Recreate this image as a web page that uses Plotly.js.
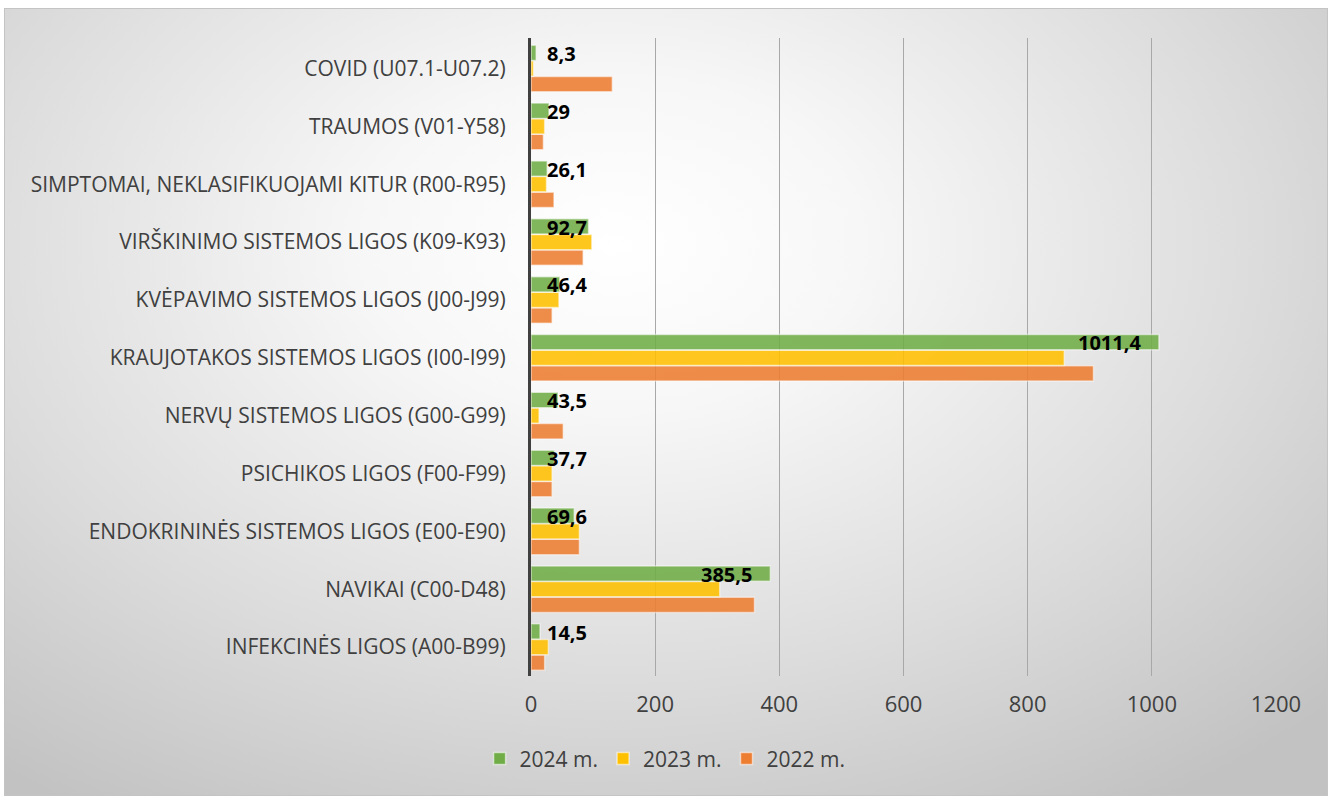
<!DOCTYPE html>
<html>
<head>
<meta charset="utf-8">
<script src="https://cdn.plot.ly/plotly-3.0.1.min.js"></script>
<style>
  html, body { margin: 0; padding: 0; background: #ffffff; }
  #frame {
    position: absolute; left: 4px; top: 8px; width: 1322px; height: 786px;
    border: 1px solid #c4c4c4;
    background: radial-gradient(ellipse 75% 85% at 46% 30%, #ffffff 0%, #f7f7f7 25%, #dcdcdc 65%, #c2c2c2 100%);
  }
  #chart { position: absolute; left: 0; top: 0; width: 1328px; height: 797px; }
</style>
</head>
<body>
<div id="frame"></div>
<div id="chart"></div>
<script>
document.addEventListener('DOMContentLoaded', function() {
    // categories, bottom to top
    var categories = [
      'INFEKCINĖS LIGOS (A00-B99)',
      'NAVIKAI (C00-D48)',
      'ENDOKRININĖS SISTEMOS LIGOS (E00-E90)',
      'PSICHIKOS LIGOS (F00-F99)',
      'NERVŲ SISTEMOS LIGOS (G00-G99)',
      'KRAUJOTAKOS SISTEMOS LIGOS (I00-I99)',
      'KVĖPAVIMO SISTEMOS LIGOS (J00-J99)',
      'VIRŠKINIMO SISTEMOS LIGOS (K09-K93)',
      'SIMPTOMAI, NEKLASIFIKUOJAMI KITUR (R00-R95)',
      'TRAUMOS (V01-Y58)',
      'COVID (U07.1-U07.2)'
    ];

    var values2024 = [14.5, 385.5, 69.6, 37.7, 43.5, 1011.4, 46.4, 92.7, 26.1, 29, 8.3];
    var values2023 = [28, 304, 78, 34, 13, 859, 45, 98, 25, 22, 4];
    var values2022 = [22, 360, 78, 34, 52, 906, 34, 84, 37, 20, 131];

    var labels2024 = ['14,5', '385,5', '69,6', '37,7', '43,5', '1011,4', '46,4', '92,7', '26,1', '29', '8,3'];

    var xTicks = [0, 200, 400, 600, 800, 1000, 1200];

    function barTrace(name, values, color) {
      return {
        type: 'bar',
        orientation: 'h',
        name: name,
        y: categories,
        x: values,
        marker: {
          color: color,
          opacity: 0.88,
          line: { color: 'rgba(255,255,255,0.55)', width: 1.5 }
        },
        hoverinfo: 'x'
      };
    }

    // first trace is drawn lowest in each group
    var traces = [
      barTrace('2022 m.', values2022, '#ED7D31'),
      barTrace('2023 m.', values2023, '#FFC000'),
      barTrace('2024 m.', values2024, '#70AD47')
    ];

    // data labels of the 2024 series
    var annotations = values2024.map(function(v, i) {
      var big = v > 200;
      return {
        x: big ? v : 0,
        y: categories[i],
        xref: 'x', yref: 'y',
        text: labels2024[i],
        showarrow: false,
        xanchor: big ? 'right' : 'left',
        xshift: big ? -16 : 14,
        yshift: 15,
        font: { family: 'Open Sans, sans-serif', size: 20, color: '#000000', weight: 'bold' }
      };
    });

    var layout = {
      width: 1328,
      height: 797,
      margin: { l: 531, r: 52, t: 38, b: 121 },
      paper_bgcolor: 'rgba(0,0,0,0)',
      plot_bgcolor: 'rgba(0,0,0,0)',
      barmode: 'group',
      bargap: 0.19,
      bargroupgap: 0.02,
      font: { family: 'Open Sans, sans-serif', color: '#404040' },
      xaxis: {
        range: [0, 1200],
        tickvals: xTicks,
        ticktext: xTicks.map(String),
        showgrid: true,
        gridcolor: '#a8a8a8',
        gridwidth: 1,
        zeroline: false,
        showline: false,
        ticks: '',
        ticklabelstandoff: 13,
        tickfont: { size: 22, color: '#404040' },
        fixedrange: true
      },
      yaxis: {
        type: 'category',
        showgrid: false,
        zeroline: false,
        showline: true,
        linecolor: '#404040',
        linewidth: 3,
        ticks: '',
        ticklabelstandoff: 18,
        tickfont: { size: 21, color: '#404040' },
        fixedrange: true
      },
      showlegend: true,
      legend: {
        orientation: 'h',
        traceorder: 'reversed',
        x: 0.18,
        xanchor: 'center',
        y: -0.13,
        yanchor: 'middle',
        font: { size: 21, color: '#404040' },
        bgcolor: 'rgba(0,0,0,0)'
      },
      annotations: annotations
    };

    var config = {
      responsive: false,
      displayModeBar: false,
      displaylogo: false
    };

    Plotly.newPlot('chart', traces, layout, config);
});
</script>
</body>
</html>
